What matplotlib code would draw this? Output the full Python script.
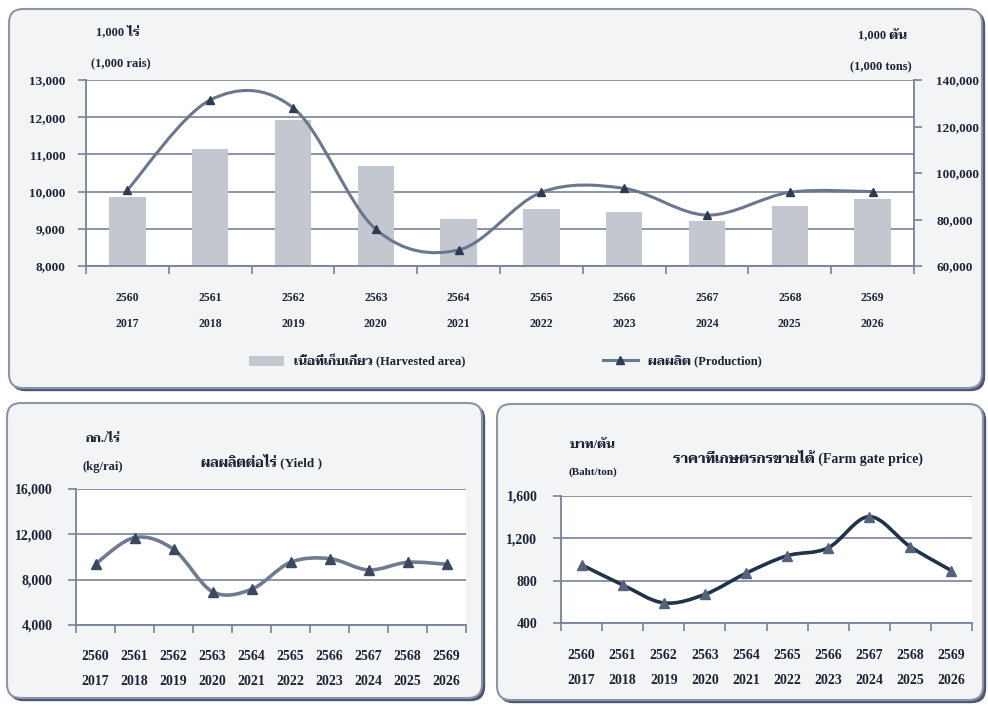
import matplotlib
matplotlib.use("Agg")
import matplotlib.pyplot as plt
from matplotlib import font_manager
from matplotlib.path import Path
from matplotlib.patches import PathPatch, FancyBboxPatch, Patch
from matplotlib.lines import Line2D
from matplotlib.ticker import FuncFormatter

# ---------------- data ----------------
years_be = ['2560', '2561', '2562', '2563', '2564', '2565', '2566', '2567', '2568', '2569']
years_ad = ['2017', '2018', '2019', '2020', '2021', '2022', '2023', '2024', '2025', '2026']

harvested_area = [9850, 11150, 11925, 10700, 9260, 9520, 9450, 9220, 9610, 9810]          # 1,000 rai
production = [92700, 131400, 128100, 75800, 66900, 91700, 93400, 81900, 91700, 92000]      # 1,000 tons
yield_kg = [9390, 11710, 10680, 6940, 7150, 9530, 9860, 8860, 9530, 9360]                  # kg/rai
farm_price = [950, 760, 590, 670, 870, 1035, 1110, 1405, 1120, 895]                        # baht/ton

area_ticks = [8000, 9000, 10000, 11000, 12000, 13000]
prod_ticks = [60000, 80000, 100000, 120000, 140000]
yield_ticks = [4000, 8000, 12000, 16000]
price_ticks = [400, 800, 1200, 1600]

# ---------------- fonts ----------------
names = {f.name for f in font_manager.fontManager.ttflist}
thai = 'DejaVu Sans'
for cand in ['Taviraj', 'Trirong', 'Sarabun', 'Noto Serif Thai', 'Noto Sans Thai', 'Athiti', 'Chakra Petch']:
    if cand in names:
        thai = cand
        break
plt.rcParams['font.family'] = ['Liberation Serif', thai]
plt.rcParams['font.weight'] = 'bold'

TXT = '#1d2436'
GRID = '#77829a'
BAR = '#c3c7d0'

W, H = 988, 709
fig = plt.figure(figsize=(W / 100, H / 100), dpi=100)

def fx(px):
    return px / W

def fy(py):
    return 1 - py / H

# background layer in pixel units for the rounded panels
bg = fig.add_axes([0, 0, 1, 1], zorder=-1)
bg.set_xlim(0, W)
bg.set_ylim(H, 0)
bg.axis('off')

def panel(x0, y0, x1, y1):
    sh = FancyBboxPatch((x0 + 2.5, y0 + 2.5), x1 - x0, y1 - y0, boxstyle='round,pad=0,rounding_size=14',
                        fc='#4c5870', ec='#4c5870', lw=1)
    bg.add_patch(sh)
    p = FancyBboxPatch((x0, y0), x1 - x0, y1 - y0, boxstyle='round,pad=0,rounding_size=14',
                       fc='#f3f4f6', ec='#8d96a8', lw=1.5)
    bg.add_patch(p)

panel(9, 9, 982, 388)
panel(7, 403, 482, 698)
panel(497, 404, 983, 700)

def smooth_path(x, y):
    pts = list(zip(x, y))
    n = len(pts)
    verts = [pts[0]]
    codes = [Path.MOVETO]
    for i in range(n - 1):
        p0 = pts[i - 1] if i > 0 else pts[i]
        p1 = pts[i]
        p2 = pts[i + 1]
        p3 = pts[i + 2] if i + 2 < n else pts[i + 1]
        c1 = (p1[0] + (p2[0] - p0[0]) / 6, p1[1] + (p2[1] - p0[1]) / 6)
        c2 = (p2[0] - (p3[0] - p1[0]) / 6, p2[1] - (p3[1] - p1[1]) / 6)
        verts += [c1, c2, p2]
        codes += [Path.CURVE4] * 3
    return Path(verts, codes)

def style_axes(ax, yt, fs_year, pad_year, ls_year, ylab_pad, ylab_fs):
    x = list(range(len(years_be)))
    ax.set_xlim(-0.5, len(x) - 0.5)
    ax.set_xticks(x)
    ax.set_xticklabels([a + '\n' + b for a, b in zip(years_be, years_ad)],
                       fontsize=fs_year, color=TXT, linespacing=ls_year)
    ax.set_xticks([i - 0.5 for i in range(len(x) + 1)], minor=True)
    ax.tick_params(axis='x', which='major', length=0, pad=pad_year)
    ax.tick_params(axis='x', which='minor', length=6, width=1.2, color=GRID, direction='out')
    ax.set_yticks(yt)
    ax.set_ylim(yt[0], yt[-1])
    ax.yaxis.set_major_formatter(FuncFormatter(lambda v, p: '{:,.0f}'.format(v)))
    ax.tick_params(axis='y', length=6, width=1.2, color=GRID, pad=ylab_pad, labelsize=ylab_fs, labelcolor=TXT)
    ax.grid(axis='y', color=GRID, lw=1.2)
    ax.set_axisbelow(True)
    for s in ['top', 'right']:
        ax.spines[s].set_visible(False)
    for s in ['left', 'bottom']:
        ax.spines[s].set_color(GRID)
        ax.spines[s].set_linewidth(1.3)

# ---------------- top panel: area (bars) + production (line) ----------------
ax = fig.add_axes([fx(86), fy(266), fx(914) - fx(86), fy(80) - fy(266)])
xs = list(range(len(years_be)))
ax.bar(xs, [v - area_ticks[0] for v in harvested_area], bottom=area_ticks[0], width=0.44,
       color=BAR, zorder=2)
style_axes(ax, area_ticks, 8.5, 19, 2.5, 9, 9.5)

ax2 = ax.twinx()
ax2.set_ylim(prod_ticks[0], prod_ticks[-1])
ax2.set_yticks(prod_ticks)
ax2.yaxis.set_major_formatter(FuncFormatter(lambda v, p: '{:,.0f}'.format(v)))
ax2.tick_params(axis='y', length=6, width=1.2, color=GRID, pad=10, labelsize=9.5, labelcolor=TXT)
for s in ['top', 'left', 'bottom']:
    ax2.spines[s].set_visible(False)
ax2.spines['right'].set_color(GRID)
ax2.spines['right'].set_linewidth(1.3)
ax2.add_patch(PathPatch(smooth_path(xs, production), fill=False, ec='#6b778c', lw=2.2, zorder=3))
ax2.plot(xs, production, '^', color='#2d3b55', ms=6, zorder=4)

fig.text(fx(118), fy(33), '1,000 ไร่', ha='center', va='center', fontsize=9, color=TXT)
fig.text(fx(121), fy(63), '(1,000 rais)', ha='center', va='center', fontsize=9, color=TXT)
fig.text(fx(882), fy(36), '1,000 ตัน', ha='center', va='center', fontsize=9, color=TXT)
fig.text(fx(881), fy(67), '(1,000 tons)', ha='center', va='center', fontsize=9, color=TXT)

handles = [Patch(fc=BAR, ec='none'),
           Line2D([], [], color='#6b778c', lw=2.2, marker='^', ms=6, mfc='#2d3b55', mec='#2d3b55')]
fig.legend(handles, ['เนื้อที่เก็บเกี่ยว (Harvested area)', 'ผลผลิต (Production)'],
           loc='center', bbox_to_anchor=(fx(505), fy(361)), ncol=2, frameon=False,
           fontsize=9, handlelength=2.8, handleheight=0.9, handletextpad=0.8, columnspacing=11,
           labelcolor=TXT)

# ---------------- bottom left: yield ----------------
axy = fig.add_axes([fx(76), fy(625), fx(466) - fx(76), fy(489) - fy(625)])
style_axes(axy, yield_ticks, 10, 18, 2.2, 11, 10)
axy.add_patch(PathPatch(smooth_path(xs, yield_kg), fill=False, ec='#6f7b8f', lw=2.6, zorder=3))
axy.plot(xs, yield_kg, '^', color='#3b4860', ms=7.5, zorder=4)
fig.text(fx(103), fy(439), 'กก./ไร่', ha='center', va='center', fontsize=9, color=TXT)
fig.text(fx(103), fy(467), '(kg/rai)', ha='center', va='center', fontsize=9, color=TXT)
fig.text(fx(262), fy(461), 'ผลผลิตต่อไร่ (Yield )', ha='center', va='center', fontsize=9.5, color=TXT)

# ---------------- bottom right: farm gate price ----------------
axp = fig.add_axes([fx(561), fy(623), fx(972) - fx(561), fy(496) - fy(623)])
style_axes(axp, price_ticks, 10, 19, 2.2, 11, 10)
axp.add_patch(PathPatch(smooth_path(xs, farm_price), fill=False, ec='#1f3349', lw=2.6, zorder=3))
axp.plot(xs, farm_price, '^', color='#56617a', ms=7.5, zorder=4)
fig.text(fx(593), fy(445), 'บาท/ตัน', ha='center', va='center', fontsize=9, color=TXT)
fig.text(fx(593), fy(472), '(Baht/ton)', ha='center', va='center', fontsize=8, color=TXT)
fig.text(fx(798), fy(458), 'ราคาที่เกษตรกรขายได้ (Farm gate price)', ha='center', va='center',
         fontsize=10, color=TXT)

fig.savefig('out.png', dpi=100)
